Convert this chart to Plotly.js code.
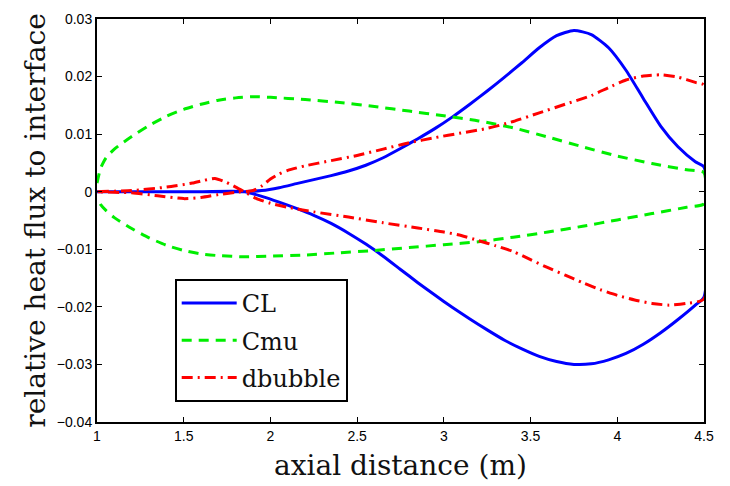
<!DOCTYPE html>
<html>
<head>
<meta charset="utf-8">
<script src="https://cdn.plot.ly/plotly-3.0.1.min.js"></script>
<style>html,body{margin:0;padding:0;background:#fff;}#chart{width:730px;height:486px;}</style>
</head>
<body>
<div id="chart"></div>
<script>
// CL (blue, solid)
const clUpperX = [1.0, 1.3, 1.6, 1.85, 1.95, 2.05, 2.15, 2.25, 2.35, 2.45, 2.55, 2.65, 2.75, 2.85, 2.95, 3.05, 3.15, 3.25, 3.35, 3.45, 3.55, 3.65, 3.75, 3.85, 3.95, 4.05, 4.15, 4.25, 4.35, 4.45, 4.5];
const clUpperY = [0, 0, 0, 0, 0.0002, 0.0007, 0.0014, 0.0021, 0.0028, 0.0036, 0.0046, 0.0059, 0.0075, 0.0092, 0.0110, 0.0130, 0.0152, 0.0175, 0.0199, 0.0224, 0.0250, 0.0271, 0.0280, 0.0273, 0.0250, 0.0211, 0.0162, 0.0114, 0.0078, 0.0052, 0.0043];
const clLowerX = [1.0, 1.3, 1.6, 1.85, 1.95, 2.05, 2.15, 2.25, 2.35, 2.45, 2.55, 2.65, 2.75, 2.85, 2.95, 3.05, 3.15, 3.25, 3.35, 3.45, 3.55, 3.65, 3.75, 3.85, 3.95, 4.05, 4.15, 4.25, 4.35, 4.45, 4.5];
const clLowerY = [0, 0, 0, 0, -0.0008, -0.0018, -0.0029, -0.0041, -0.0055, -0.0072, -0.0091, -0.0112, -0.0135, -0.0158, -0.0180, -0.0201, -0.0221, -0.0240, -0.0258, -0.0273, -0.0286, -0.0295, -0.0300, -0.0299, -0.0292, -0.0281, -0.0265, -0.0245, -0.0222, -0.0197, -0.0183];

// Cmu (green, dashed)
const cmuUpperX = [1.0, 1.02, 1.05, 1.1, 1.2, 1.3, 1.4, 1.5, 1.6, 1.7, 1.8, 1.9, 2.0, 2.2, 2.4, 2.6, 2.8, 3.0, 3.2, 3.4, 3.6, 3.8, 4.0, 4.2, 4.4, 4.5];
const cmuUpperY = [0.0015, 0.0040, 0.0058, 0.0074, 0.0096, 0.0115, 0.0131, 0.0143, 0.0152, 0.0159, 0.0163, 0.0165, 0.0164, 0.0160, 0.0155, 0.0148, 0.0140, 0.0132, 0.0123, 0.0111, 0.0095, 0.0078, 0.0062, 0.0049, 0.0038, 0.0033];
const cmuLowerX = [1.0, 1.02, 1.05, 1.1, 1.2, 1.3, 1.4, 1.5, 1.6, 1.7, 1.85, 2.0, 2.2, 2.4, 2.6, 2.8, 3.0, 3.2, 3.4, 3.6, 3.8, 4.0, 4.2, 4.4, 4.5];
const cmuLowerY = [-0.0010, -0.0022, -0.0032, -0.0045, -0.0064, -0.0080, -0.0093, -0.0102, -0.0108, -0.0111, -0.0113, -0.0112, -0.0110, -0.0106, -0.0102, -0.0097, -0.0092, -0.0087, -0.0079, -0.0070, -0.0060, -0.0049, -0.0038, -0.0027, -0.0021];

// dbubble (red, dash-dot)
const dbUpperX = [1.0, 1.2, 1.35, 1.5, 1.6, 1.7, 1.8, 1.9, 1.95, 2.0, 2.05, 2.1, 2.2, 2.35, 2.5, 2.65, 2.8, 2.95, 3.1, 3.25, 3.4, 3.55, 3.7, 3.85, 3.95, 4.05, 4.15, 4.25, 4.35, 4.45, 4.5];
const dbUpperY = [0, -0.0002, -0.0007, -0.0012, -0.0010, -0.0005, -0.0001, 0.0002, 0.0010, 0.0022, 0.0031, 0.0037, 0.0045, 0.0054, 0.0063, 0.0074, 0.0085, 0.0094, 0.0102, 0.0110, 0.0122, 0.0137, 0.0152, 0.0167, 0.0181, 0.0194, 0.0201, 0.0203, 0.0199, 0.0190, 0.0185];
const dbLowerX = [1.0, 1.2, 1.4, 1.55, 1.62, 1.68, 1.74, 1.8, 1.86, 1.92, 2.0, 2.1, 2.25, 2.45, 2.65, 2.85, 3.0, 3.1, 3.2, 3.3, 3.4, 3.5, 3.6, 3.7, 3.8, 3.9, 4.0, 4.1, 4.2, 4.3, 4.4, 4.5];
const dbLowerY = [0, 0.0002, 0.0008, 0.0015, 0.0020, 0.0023, 0.0017, 0.0008, -0.0002, -0.0012, -0.0020, -0.0027, -0.0035, -0.0044, -0.0054, -0.0063, -0.0070, -0.0076, -0.0085, -0.0094, -0.0104, -0.0118, -0.0132, -0.0145, -0.0158, -0.0170, -0.0180, -0.0188, -0.0194, -0.0197, -0.0194, -0.0186];

const xTicks = [1, 1.5, 2, 2.5, 3, 3.5, 4, 4.5];
const xTickText = ['1', '1.5', '2', '2.5', '3', '3.5', '4', '4.5'];
const yTicks = [-0.04, -0.03, -0.02, -0.01, 0, 0.01, 0.02, 0.03];
const yTickText = ['\u22120.04', '\u22120.03', '\u22120.02', '\u22120.01', '0', '0.01', '0.02', '0.03'];

function loop(ux, uy, lx, ly) {
  return {
    x: ux.concat(lx.slice().reverse()),
    y: uy.concat(ly.slice().reverse())
  };
}

const cl = loop(clUpperX, clUpperY, clLowerX, clLowerY);
const cmu = loop(cmuUpperX, cmuUpperY, cmuLowerX, cmuLowerY);
const db = loop(dbUpperX, dbUpperY, dbLowerX, dbLowerY);

const traces = [
  {x: cl.x, y: cl.y, name: 'CL', mode: 'lines', line: {color: '#0000ff', width: 3, shape: 'spline', smoothing: 0.6}, legendgroup: 'a'},
  {x: cmu.x, y: cmu.y, name: 'Cmu', mode: 'lines', line: {color: '#00ee00', width: 3, dash: '10px,7px', shape: 'spline', smoothing: 0.6}, legendgroup: 'b'},
  {x: db.x, y: db.y, name: 'dbubble', mode: 'lines', line: {color: '#ff0000', width: 3, dash: '11px,5px,2px,5px', shape: 'spline', smoothing: 0.6}, legendgroup: 'c'}
];

const tickFont = {family: '"Liberation Sans", Arial, sans-serif', size: 14, color: '#000'};
const serif = '"DejaVu Serif", "Liberation Serif", serif';

const layout = {
  width: 730, height: 486,
  margin: {l: 97, r: 26, t: 19, b: 64},
  paper_bgcolor: '#fff', plot_bgcolor: '#fff',
  font: {family: serif},
  showlegend: true,
  legend: {
    x: 0.128, y: 0.355, xanchor: 'left', yanchor: 'top',
    bgcolor: '#fff', bordercolor: '#000', borderwidth: 2,
    font: {family: 'DejaVu Serif', size: 24, color: '#111'},
    tracegroupgap: 3,
    itemwidth: 55
  },
  xaxis: {
    range: [1, 4.5], tickvals: xTicks, ticktext: xTickText,
    showgrid: false, zeroline: false, showline: true, linecolor: '#000', linewidth: 2,
    mirror: 'ticks', ticks: 'inside', ticklen: 5, tickwidth: 1, tickcolor: '#000',
    tickfont: tickFont,
    title: {text: 'axial distance (m)', font: {family: serif, size: 28, color: '#111'}, standoff: 13}
  },
  yaxis: {
    range: [-0.04, 0.03], tickvals: yTicks, ticktext: yTickText,
    showgrid: false, zeroline: false, showline: true, linecolor: '#000', linewidth: 2,
    mirror: 'ticks', ticks: 'inside', ticklen: 5, tickwidth: 1, tickcolor: '#000',
    tickfont: tickFont,
    title: {text: 'relative heat flux to interface', font: {family: serif, size: 28, color: '#111'}, standoff: 3}
  }
};

Plotly.newPlot('chart', traces, layout, {displayModeBar: false, staticPlot: true});
</script>
</body>
</html>
